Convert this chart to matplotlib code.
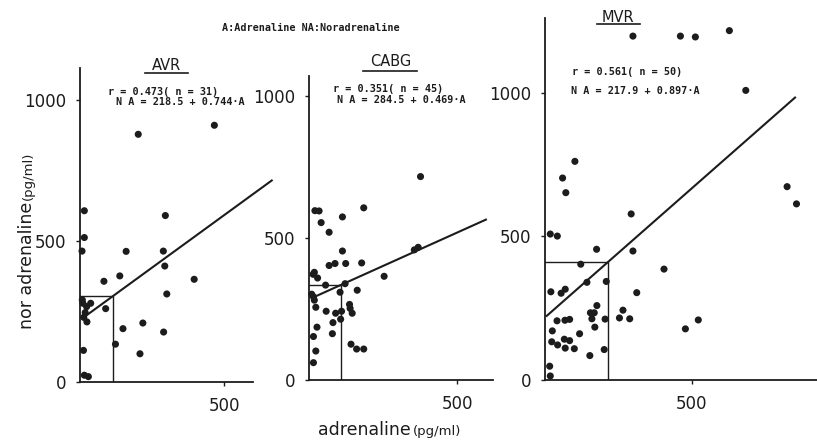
import numpy as np
import matplotlib
matplotlib.use("Agg")
import matplotlib.pyplot as plt
from matplotlib.lines import Line2D

W, H = 817, 440

# adrenaline (A) vs noradrenaline (NA), pg/ml, one pair of lists per group
avr_a = [202, 466, 15, 296, 15, 7, 160, 289, 294, 396, 83, 138, 301, 10, 23, 37, 89,
         13, 24, 218, 149, 290, 123, 208, 12, 15, 29, 18, 8]
avr_na = [877, 909, 606, 589, 511, 463, 462, 463, 410, 363, 356, 375, 311, 278, 266, 278, 259,
          228, 212, 208, 188, 176, 133, 99, 111, 23, 18, 245, 290]

cabg_a = [19, 33, 184, 112, 40, 67, 112, 368, 355, 376, 67, 87, 123, 177, 17, 13, 28, 253,
          55, 121, 104, 162, 8, 14, 17, 136, 138, 145, 22, 57, 89, 109, 106, 80, 26, 78,
          14, 141, 160, 184, 22, 14]
cabg_na = [596, 595, 606, 574, 554, 520, 454, 467, 458, 716, 403, 410, 410, 412, 379, 372, 359, 365,
           334, 339, 309, 316, 302, 293, 281, 266, 252, 235, 256, 242, 235, 242, 214, 202, 186, 163,
           153, 126, 109, 109, 102, 61]

mvr_a = [300, 462, 513, 629, 685, 102, 60, 71, 826, 858, 294, 18, 42, 176, 300, 406, 479, 523,
         122, 143, 209, 20, 55, 69, 313, 177, 266, 155, 168, 160, 254, 289, 205, 41, 68, 84,
         170, 25, 118, 23, 43, 66, 84, 69, 100, 202, 153, 16, 18]
mvr_na = [1197, 1197, 1194, 1216, 1008, 761, 703, 652, 673, 613, 578, 508, 501, 455, 449, 386, 178, 209,
          403, 340, 343, 307, 302, 316, 304, 259, 243, 234, 234, 213, 216, 213, 212, 206, 208, 211,
          184, 171, 161, 133, 122, 142, 137, 111, 109, 106, 85, 48, 14]

groups = ["AVR", "CABG", "MVR"]
r_values = [0.473, 0.351, 0.561]
n_values = [31, 45, 50]
intercepts = [218.5, 284.5, 217.9]
slopes = [0.744, 0.469, 0.897]
mean_a = [115.6, 106, 216]


def fx(px):
    return px / W


def fy(py):
    return 1 - py / H


ink = "#1c1c1c"
plt.rcParams["font.family"] = ["DejaVu Sans"]
fig = plt.figure(figsize=(W / 100, H / 100), dpi=100)

# per panel: axes rect (px), limits, regression line span, title/annotation positions
panels = [
    dict(a=avr_a, na=avr_na, rect=(80, 68, 253, 381.7), xlim=600, ylim=1112, span=(15, 665),
         title=(166.7, 66, 145, 188, 73.3), ann=((108.3, 91.7), (116, 101.7))),
    dict(a=cabg_a, na=cabg_na, rect=(309.3, 76, 492.7, 380), xlim=620, ylim=1070, span=(19, 597),
         title=(390.5, 61.3, 363.3, 416.7, 70.7), ann=((332.7, 89.3), (337.3, 100))),
    dict(a=mvr_a, na=mvr_na, rect=(545, 18, 817, 380), xlim=928, ylim=1260, span=(6, 853),
         title=(618.3, 17.5, 596.7, 640, 24.3), ann=((571.7, 71.7), (570.7, 90.7))),
]

for i, p in enumerate(panels):
    x0, y0, x1, y1 = p["rect"]
    ax = fig.add_axes([fx(x0), fy(y1), (x1 - x0) / W, (y1 - y0) / H])
    ax.set_xlim(0, p["xlim"])
    ax.set_ylim(0, p["ylim"])
    for s in ["top", "right"]:
        ax.spines[s].set_visible(False)
    for s in ["left", "bottom"]:
        ax.spines[s].set_linewidth(1.3)
        ax.spines[s].set_color(ink)
    ax.set_xticks([500])
    ax.set_yticks([0, 500, 1000])
    ax.tick_params(axis="both", length=3, width=1, color=ink, labelsize=12, labelcolor=ink)
    ax.tick_params(axis="y", pad=7)
    ax.tick_params(axis="x", pad=8)

    ax.scatter(p["a"], p["na"], s=26, color=ink, edgecolors="none", clip_on=False, zorder=3)

    # regression line NA = a + b*A
    xs = np.array(p["span"])
    ax.plot(xs, intercepts[i] + slopes[i] * xs, color=ink, lw=1.5, clip_on=False)

    # mean A / mean NA guide lines
    ma = mean_a[i]
    mn = intercepts[i] + slopes[i] * ma
    ax.plot([0, ma, ma], [mn, mn, 0], color=ink, lw=1.0)

    tx, ty, ux0, ux1, uy = p["title"]
    fig.text(fx(tx), fy(ty), groups[i], ha="center", va="center", fontsize=10.5, color=ink)
    fig.add_artist(Line2D([fx(ux0), fx(ux1)], [fy(uy), fy(uy)], color=ink, lw=1.2))

    (ax1, ay1), (ax2, ay2) = p["ann"]
    fig.text(fx(ax1), fy(ay1), f"r = {r_values[i]:.3f}( n = {n_values[i]})",
             ha="left", va="center", fontsize=7.3, family="DejaVu Sans Mono",
             fontweight="bold", color=ink)
    fig.text(fx(ax2), fy(ay2), f"N A = {intercepts[i]:.1f} + {slopes[i]:.3f}\u00b7A",
             ha="left", va="center", fontsize=7.3, family="DejaVu Sans Mono",
             fontweight="bold", color=ink)

fig.text(fx(311), fy(27.7), "A:Adrenaline NA:Noradrenaline", ha="center", va="center",
         fontsize=7.3, family="DejaVu Sans Mono", fontweight="bold", color=ink)

# axis labels: large word followed by smaller unit
fig.text(fx(411), fy(435), "adrenaline", ha="right", va="baseline", fontsize=12.5, color=ink)
fig.text(fx(413), fy(435), "(pg/ml)", ha="left", va="baseline", fontsize=9.5, color=ink)
fig.text(fx(32), fy(202), "nor adrenaline", ha="right", va="baseline", rotation=90,
         rotation_mode="anchor", fontsize=12.5, color=ink)
fig.text(fx(32), fy(200), "(pg/ml)", ha="left", va="baseline", rotation=90,
         rotation_mode="anchor", fontsize=9.5, color=ink)

fig.savefig("out.png", dpi=100)
